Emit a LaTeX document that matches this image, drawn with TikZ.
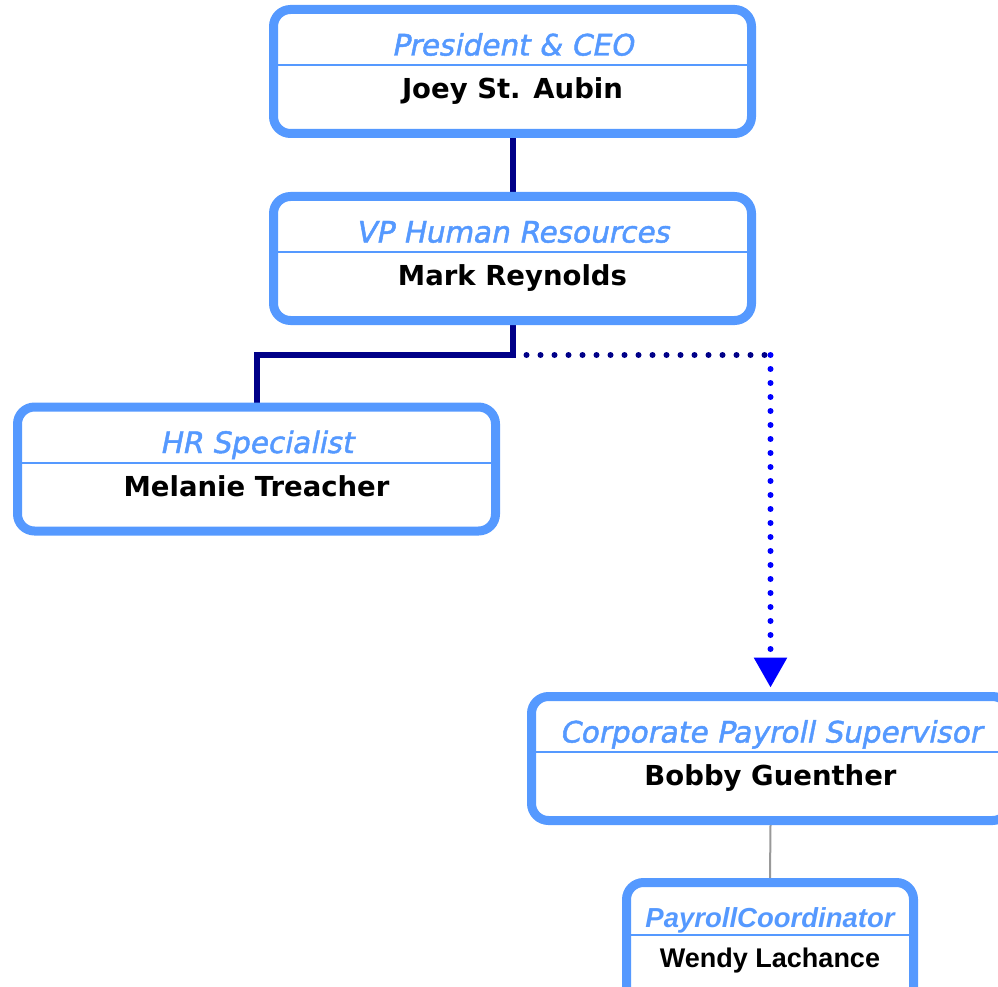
\documentclass[tikz,border=0pt]{standalone}
\usepackage{fontspec}
\setmainfont{DejaVu Sans}
\newfontfamily\titlefont{DejaVu Sans}[FakeSlant=0.2, FakeBold=1.6]
\newfontfamily\arialfont{Liberation Sans}
\usetikzlibrary{arrows.meta,backgrounds}
\definecolor{boxblue}{RGB}{85,153,255}
\definecolor{linenavy}{RGB}{0,0,136}
\definecolor{dotblue}{RGB}{0,0,255}
\tikzset{
  orgbox/.style={draw=boxblue, line width=9pt, rounded corners=17pt, fill=white,
    minimum width=478pt, minimum height=124pt, inner sep=0pt},
  jobtitle/.style={anchor=base, text=boxblue, font=\titlefont\fontsize{29.5}{31}\selectfont},
  person/.style={anchor=base, font=\fontsize{27.5}{30}\selectfont\bfseries},
  divider/.style={draw=boxblue, line width=2pt},
  reportline/.style={draw=linenavy, line width=6pt},
  dotline/.style={line width=6pt, line cap=round, dash pattern=on 0pt off 14pt},
}
\begin{document}
\begin{tikzpicture}[x=1pt,y=-1pt]
\useasboundingbox (0,0) rectangle (998,987);
% boxes
\node[orgbox] (ceo) at (512.5,71.5) {};
\node[orgbox] (vp) at (512.5,258.5) {};
\node[orgbox] (hrspec) at (256.5,469) {};
\node[orgbox] (payrollsup) at (770.5,758.5) {};
\node[orgbox, minimum width=287pt] (payrollcoord) at (770,944.5) {};
\foreach \b/\t/\n in {ceo/President \& CEO/Joey St. Aubin,
    vp/VP Human Resources/Mark Reynolds,
    hrspec/HR Specialist/Melanie Treacher,
    payrollsup/Corporate Payroll Supervisor/Bobby Guenther}{
  \node[jobtitle] (\b-title) at ([yshift=16pt]\b.center) {\t};
  \node[person] (\b-name) at ([yshift=-27pt]\b.center) {\n};
  \draw[divider] ([yshift=6.5pt]\b.west) -- ([yshift=6.5pt]\b.east);
}
\node[jobtitle, font=\arialfont\fontsize{27.5}{30}\selectfont\bfseries\itshape] (payrollcoord-title)
  at ([yshift=17.5pt]payrollcoord.center) {PayrollCoordinator};
\node[person, font=\arialfont\fontsize{27}{30}\selectfont\bfseries] (payrollcoord-name)
  at ([yshift=-22.5pt]payrollcoord.center) {Wendy Lachance};
\draw[divider] ([yshift=9.5pt]payrollcoord.west) -- ([yshift=9.5pt]payrollcoord.east);
% connectors
\coordinate (split) at ([yshift=-30pt]vp.south);
\coordinate (turn) at (split -| payrollsup.north);
\begin{scope}[on background layer]
  \draw[dotline, draw=linenavy] (split) -- (turn);
  \draw[dotline, draw=dotblue, -{Triangle[width=32pt,length=30pt]}, shorten >=4.5pt] (turn) -- (payrollsup.north);
  \draw[reportline] (ceo.south) -- (vp.north);
  \draw[reportline] (vp.south) -- (split) -| (hrspec.north);
  \draw[draw=gray!80, line width=2pt] (payrollsup.south) -- (payrollcoord.north);
\end{scope}
\end{tikzpicture}
\end{document}
